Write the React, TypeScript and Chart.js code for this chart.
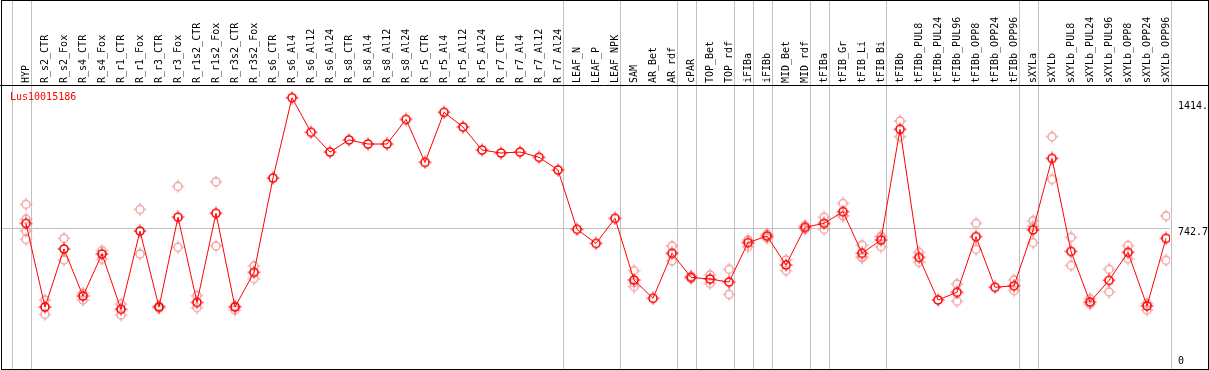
import { useEffect, useRef } from "react";
import { Chart, registerables } from "chart.js";

Chart.register(...registerables);

const geneLabel = "Lus10015186";

const categories = [
  "HYP", "R_s2_CTR", "R_s2_Fox", "R_s4_CTR", "R_s4_Fox", "R_r1_CTR", "R_r1_Fox",
  "R_r3_CTR", "R_r3_Fox", "R_r1s2_CTR", "R_r1s2_Fox", "R_r3s2_CTR", "R_r3s2_Fox",
  "R_s6_CTR", "R_s6_Al4", "R_s6_Al12", "R_s6_Al24", "R_s8_CTR", "R_s8_Al4", "R_s8_Al12",
  "R_s8_Al24", "R_r5_CTR", "R_r5_Al4", "R_r5_Al12", "R_r5_Al24", "R_r7_CTR", "R_r7_Al4",
  "R_r7_Al12", "R_r7_Al24", "LEAF_N", "LEAF_P", "LEAF_NPK", "SAM", "AR_Bet", "AR_rdf",
  "cPAR", "TOP_Bet", "TOP_rdf", "iFIBa", "iFIBb", "MID_Bet", "MID_rdf", "tFIBa",
  "tFIB_Gr", "tFIB_Li", "tFIB_Bi", "tFIBb", "tFIBb_PUL8", "tFIBb_PUL24", "tFIBb_PUL96",
  "tFIBb_OPP8", "tFIBb_OPP24", "tFIBb_OPP96", "sXYLa", "sXYLb", "sXYLb_PUL8",
  "sXYLb_PUL24", "sXYLb_PUL96", "sXYLb_OPP8", "sXYLb_OPP24", "sXYLb_OPP96",
];

const meanValues = [
  769, 321, 632, 380, 605, 309, 728, 321, 802, 346, 823, 321, 507,
  1012, 1442, 1257, 1151, 1216, 1194, 1194, 1326, 1096, 1364, 1285, 1162, 1146, 1151, 1123, 1055,
  737, 662, 796, 466, 368, 609, 480, 471, 455, 666, 701, 546, 748, 769,
  832, 609, 680, 1273, 587, 359, 400, 698, 427, 435, 734, 1117, 619,
  348, 464, 614, 327, 689,
];

const rep1 = [
  871, 359, 689, 395, 623, 337, 844, 327, 967, 382, 992, 327, 541,
  null, null, null, null, null, null, null, null, null, null, null, null, null, null, null, null,
  null, null, null, 516, null, 648, 486, 493, 523, 680, 712, 573, 757, 802,
  876, 652, 701, 1317, 614, null, 444, 769, null, 466, 783, 1233, 694,
  366, 523, 650, 341, 809,
];

const rep2 = [
  792, 282, 573, 359, 578, 278, 605, 314, 641, 318, 648, 305, 473,
  null, null, null, null, null, null, null, null, null, null, null, null, null, null, null, null,
  null, null, null, 452, null, 568, 474, 448, 389, 644, 690, 516, 737, 737,
  809, 585, 644, 1233, 561, null, 352, 630, null, 409, 666, 1005, 544,
  336, 402, 580, 305, 571,
];

const rep3 = [
  728, null, null, null, null, null, null, null, null, null, null, null, null,
  null, null, null, null, null, null, null, null, null, null, null, null, null, null, null, null,
  null, null, null, 430, null, null, null, null, null, null, null, null, null, null,
  811, 590, 695, null, null, null, null, null, null, null, 753, null, null,
  null, null, null, null, null,
];

const rep4 = [
  684, null, null, null, null, null, null, null, null, null, null, null, null,
  null, null, null, null, null, null, null, null, null, null, null, null, null, null, null, null,
  null, null, null, null, null, null, null, null, null, null, null, null, null, null,
  null, null, null, null, null, null, null, null, null, null, null, null, null,
  null, null, null, null, null,
];

const yTickValues = [0, 742.7, 1414.4];
const yTickLabels = ["0", "742.7", "1414.4"];
const separatorsAfter = [-1, 0, 28, 31, 34, 35, 37, 38, 39, 41, 42, 45, 52, 53, 60];

const FONT = "'DejaVu Sans Mono', monospace";

function makeMarker(color: string, lw: number) {
  const c = document.createElement("canvas");
  c.width = 14;
  c.height = 14;
  const g = c.getContext("2d")!;
  g.strokeStyle = color;
  g.lineWidth = lw;
  g.beginPath();
  g.arc(7, 7, 4, 0, Math.PI * 2);
  g.stroke();
  g.lineWidth = 1;
  g.beginPath();
  g.moveTo(7, 0.5); g.lineTo(7, 3);
  g.moveTo(7, 11); g.lineTo(7, 13.5);
  g.moveTo(0.5, 7); g.lineTo(3, 7);
  g.moveTo(11, 7); g.lineTo(13.5, 7);
  g.stroke();
  return c;
}

function zeroPadding(s: any) {
  s.paddingTop = 0;
  s.paddingBottom = 0;
  s.paddingLeft = 0;
  s.paddingRight = 0;
}

export default function App() {
  const ref = useRef<HTMLCanvasElement | null>(null);

  useEffect(() => {
    document.body.style.margin = "0";
    const canvas = ref.current!;
    const meanMarker = makeMarker("#ff0000", 1.6);
    const repMarker = makeMarker("#f09a9a", 1.3);

    const repPoints: { x: number; y: number }[] = [];
    [rep1, rep2, rep3, rep4].forEach((arr) =>
      arr.forEach((v, i) => {
        if (v !== null) repPoints.push({ x: i, y: v as number });
      })
    );

    const decor = {
      id: "decor",
      beforeDatasetsDraw(chart: any) {
        const ctx = chart.ctx;
        const xs = chart.scales.x;
        ctx.save();
        ctx.strokeStyle = "#c0c0c0";
        ctx.lineWidth = 1;
        separatorsAfter.forEach((i) => {
          const px = Math.round(xs.getPixelForValue(i + 0.24)) + 0.5;
          ctx.beginPath();
          ctx.moveTo(px, 0);
          ctx.lineTo(px, chart.chartArea.bottom);
          ctx.stroke();
        });
        ctx.restore();
      },
      afterDraw(chart: any) {
        const ctx = chart.ctx;
        const a = chart.chartArea;
        ctx.save();
        ctx.strokeStyle = "#000";
        ctx.lineWidth = 1;
        ctx.strokeRect(1.5, 0.5, 1207, a.bottom);
        ctx.beginPath();
        ctx.moveTo(0, a.top + 0.5);
        ctx.lineTo(1209, a.top + 0.5);
        ctx.stroke();
        ctx.fillStyle = "#ff0000";
        ctx.font = `10px ${FONT}`;
        ctx.textBaseline = "middle";
        ctx.textAlign = "left";
        ctx.fillText(geneLabel, 10, 97.5);
        ctx.restore();
      },
    };

    const chart = new Chart(canvas, {
      type: "line",
      data: {
        datasets: [
          {
            type: "line",
            data: meanValues.map((v, i) => ({ x: i, y: v })),
            borderColor: "#ff0000",
            borderWidth: 1,
            pointStyle: meanMarker as any,
            pointRadius: 5,
            tension: 0,
            order: 0,
          },
          {
            type: "scatter",
            data: repPoints,
            showLine: false,
            pointStyle: repMarker as any,
            pointRadius: 5,
            order: 1,
          },
        ],
      },
      options: {
        responsive: false,
        animation: false,
        devicePixelRatio: 1,
        layout: { autoPadding: false, padding: { left: 2, right: 1, top: 0, bottom: 1 } },
        plugins: { legend: { display: false }, tooltip: { enabled: false }, title: { display: false } },
        scales: {
          x: {
            type: "linear",
            position: "top",
            min: -1.263,
            max: 60.21,
            afterBuildTicks: (s: any) => {
              s.ticks = categories.map((_, i) => ({ value: i }));
            },
            afterFit: (s: any) => {
              s.height = 85;
              zeroPadding(s);
            },
            grid: { display: false, drawTicks: false, tickLength: 0 },
            border: { display: false },
            ticks: {
              autoSkip: false,
              minRotation: 90,
              maxRotation: 90,
              padding: 2,
              labelOffset: 12,
              color: "#000",
              font: { family: FONT, size: 10 },
              callback: (v: any) => categories[v] ?? "",
            },
          },
          y: {
            type: "linear",
            position: "right",
            min: -10.7,
            max: 1510.1,
            afterBuildTicks: (s: any) => {
              s.ticks = yTickValues.map((v) => ({ value: v }));
            },
            afterFit: (s: any) => {
              s.width = 38;
              zeroPadding(s);
            },
            grid: {
              drawTicks: false,
              tickLength: 0,
              lineWidth: 1,
              color: (c: any) => (c.tick && c.tick.value === yTickValues[1] ? "#c0c0c0" : "rgba(0,0,0,0)"),
            },
            border: { display: false },
            ticks: {
              padding: 8,
              labelOffset: 4,
              color: "#000",
              font: (c: any) =>
                c.tick && c.tick.value === yTickValues[0]
                  ? { family: FONT, size: 10, lineHeight: "18.6px" }
                  : { family: FONT, size: 10 },
              callback: (v: any) => {
                const idx = yTickValues.indexOf(v);
                if (idx === 0) return [yTickLabels[0], ""];
                return idx >= 0 ? yTickLabels[idx] : "";
              },
            },
          },
        },
      },
      plugins: [decor],
    } as any);

    return () => chart.destroy();
  }, []);

  return (
    <div style={{ width: 1209, height: 370 }}>
      <canvas ref={ref} width={1209} height={370} style={{ display: "block" }} />
    </div>
  );
}
